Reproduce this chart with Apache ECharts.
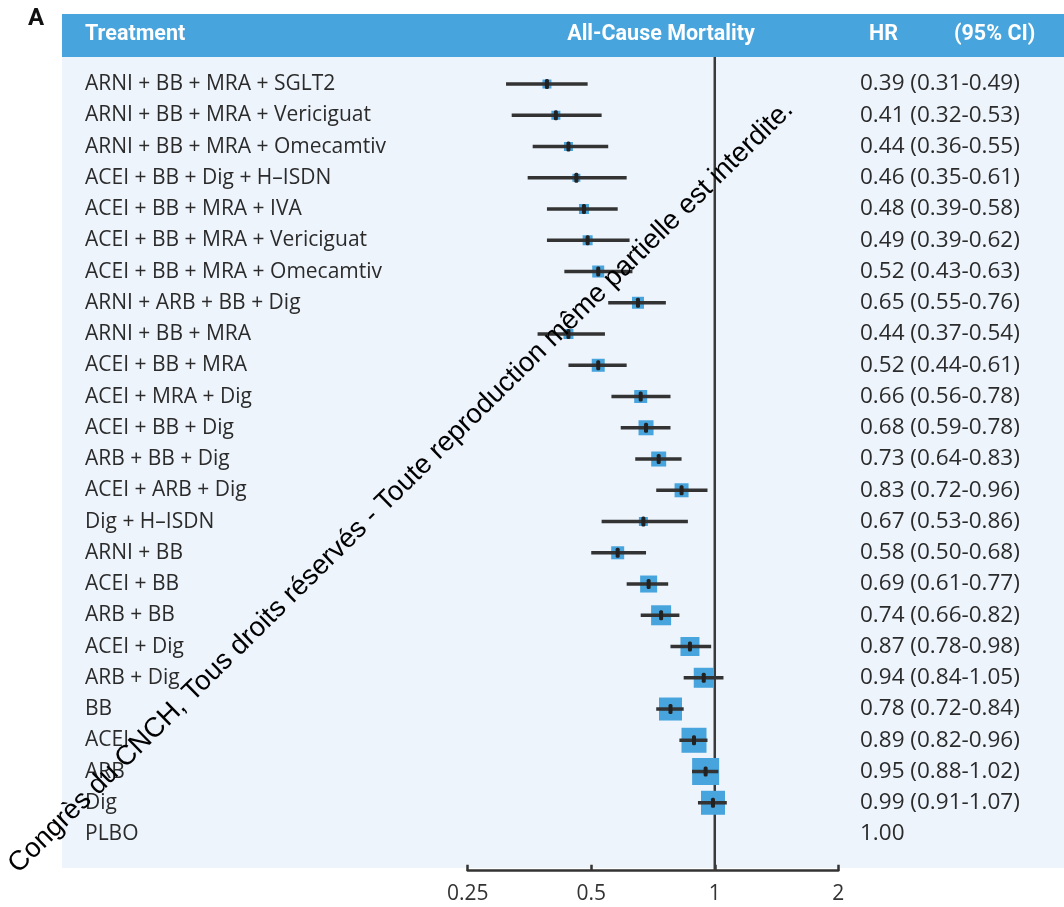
<!DOCTYPE html>
<html>
<head>
<meta charset="utf-8">
<script src="https://cdn.jsdelivr.net/npm/echarts@6/dist/echarts.min.js"></script>
<style>html,body{margin:0;padding:0;background:#fff;}#chart{width:1064px;height:907px;}</style>
</head>
<body>
<div id="chart"></div>
<script>
const categories = [
  'ARNI + BB + MRA + SGLT2','ARNI + BB + MRA + Vericiguat','ARNI + BB + MRA + Omecamtiv',
  'ACEI + BB + Dig + H\u2013ISDN','ACEI + BB + MRA + IVA','ACEI + BB + MRA + Vericiguat',
  'ACEI + BB + MRA + Omecamtiv','ARNI + ARB + BB + Dig','ARNI + BB + MRA','ACEI + BB + MRA',
  'ACEI + MRA + Dig','ACEI + BB + Dig','ARB + BB + Dig','ACEI + ARB + Dig','Dig + H\u2013ISDN',
  'ARNI + BB','ACEI + BB','ARB + BB','ACEI + Dig','ARB + Dig','BB','ACEI','ARB','Dig','PLBO'
];
const hrValues = [0.39,0.41,0.44,0.46,0.48,0.49,0.52,0.65,0.44,0.52,0.66,0.68,0.73,0.83,0.67,0.58,0.69,0.74,0.87,0.94,0.78,0.89,0.95,0.99,1.00];
const ciLower  = [0.31,0.32,0.36,0.35,0.39,0.39,0.43,0.55,0.37,0.44,0.56,0.59,0.64,0.72,0.53,0.50,0.61,0.66,0.78,0.84,0.72,0.82,0.88,0.91,null];
const ciUpper  = [0.49,0.53,0.55,0.61,0.58,0.62,0.63,0.76,0.54,0.61,0.78,0.78,0.83,0.96,0.86,0.68,0.77,0.82,0.98,1.05,0.84,0.96,1.02,1.07,null];
const weights  = [9,9,9,8,10,10,12,12,10,13,13,15,15,14,9,13,17,20,19,20,23,25,27,24,0];
const xTickLabels = ['0.25','0.5','1','2'];
const referenceHR = [1];

const hrTexts = hrValues.map((v, i) =>
  ciLower[i] == null ? v.toFixed(2) : v.toFixed(2) + ' (' + ciLower[i].toFixed(2) + '-' + ciUpper[i].toFixed(2) + ')'
);
const forestData = [];
hrValues.forEach((v, i) => {
  if (ciLower[i] != null) forestData.push([v, i, ciLower[i], ciUpper[i], weights[i]]);
});

const BLUE = '#47a4dd';
const DARK = '#333333';
const chart = echarts.init(document.getElementById('chart'), null, {renderer: 'canvas'});

const gridTop = 68.4, gridH = 781.25, gridLeft = 467.7, gridRight = 225.7;
const HEAD_FONT = 'bold 21.5px Roboto';

chart.setOption({
  animation: false,
  backgroundColor: '#ffffff',
  grid: {left: gridLeft, right: gridRight, top: gridTop, height: gridH, containLabel: false},
  xAxis: {
    type: 'log', logBase: 2, min: 0.25, max: 2, offset: 21,
    axisLine: {show: true, lineStyle: {color: DARK, width: 2.5}},
    axisTick: {show: true, inside: true, length: 6, lineStyle: {color: DARK, width: 2.5}},
    splitLine: {show: false},
    axisLabel: {
      color: '#333', fontSize: 21, fontWeight: 500, fontFamily: 'Open Sans', margin: 13,
      formatter: v => {
        const idx = Math.round(Math.log2(v) + 2);
        return xTickLabels[idx] !== undefined ? xTickLabels[idx] : '';
      }
    }
  },
  yAxis: [
    {
      type: 'category', data: categories, inverse: true, position: 'left',
      axisLine: {show: false}, axisTick: {show: false}, splitLine: {show: false},
      axisLabel: {align: 'left', margin: gridLeft - 85, color: '#2b2b2b', fontSize: 21, fontWeight: 500, fontFamily: 'Open Sans', interval: 0}
    },
    {
      type: 'category', data: hrTexts, inverse: true, position: 'right',
      axisLine: {show: false}, axisTick: {show: false}, splitLine: {show: false},
      axisLabel: {align: 'left', margin: 860 - (1064 - gridRight), color: '#2b2b2b', fontSize: 22.5, fontWeight: 500, fontFamily: 'Open Sans', interval: 0}
    }
  ],
  graphic: [
    {type: 'rect', z: -10, silent: true, shape: {x: 62, y: 57, width: 1002, height: 811}, style: {fill: '#edf4fc'}},
    {type: 'rect', z: 10, silent: true, shape: {x: 62, y: 14, width: 1002, height: 43}, style: {fill: BLUE}},
    {type: 'text', z: 11, x: 85, y: 35, style: {text: 'Treatment', fill: '#fff', font: HEAD_FONT, verticalAlign: 'middle'}},
    {type: 'text', z: 11, x: 661, y: 35, style: {text: 'All-Cause Mortality', fill: '#fff', font: HEAD_FONT, align: 'center', verticalAlign: 'middle'}},
    {type: 'text', z: 11, x: 869, y: 35, style: {text: 'HR', fill: '#fff', font: HEAD_FONT, verticalAlign: 'middle'}},
    {type: 'text', z: 11, x: 954, y: 35, style: {text: '(95% CI)', fill: '#fff', font: HEAD_FONT, verticalAlign: 'middle'}},
    {type: 'text', z: 11, x: 28, y: 19, style: {text: 'A', fill: '#111', font: 'bold 24px Roboto', verticalAlign: 'middle'}},
    {type: 'text', z: 100, x: 401, y: 487, rotation: 0.777,
     style: {text: 'Congrès du CNCH, Tous droits réservés - Toute reproduction même partielle est interdite.',
             fill: '#000', font: '27.5px "Liberation Sans"', align: 'center', verticalAlign: 'middle'}}
  ],
  series: [
    {
      type: 'custom', name: 'ref', data: referenceHR.map(v => [v, 0]), encode: {x: 0, y: 1}, z: 1,
      renderItem: (params, api) => {
        const x = api.coord([api.value(0), 0])[0];
        const cs = params.coordSys;
        return {type: 'line', shape: {x1: x, y1: cs.y - 11.4, x2: x, y2: cs.y + cs.height + 21},
                style: {stroke: '#3a3a3a', lineWidth: 2.5}};
      }
    },
    {
      type: 'custom', name: 'forest', data: forestData, encode: {x: 0, y: 1}, z: 3,
      renderItem: (params, api) => {
        const c = api.coord([api.value(0), api.value(1)]);
        const l = api.coord([api.value(2), api.value(1)]);
        const h = api.coord([api.value(3), api.value(1)]);
        const s = api.value(4);
        return {type: 'group', children: [
          {type: 'rect', shape: {x: c[0] - s / 2, y: c[1] - s / 2, width: s, height: s}, style: {fill: BLUE}},
          {type: 'line', shape: {x1: l[0], y1: c[1], x2: h[0], y2: c[1]}, style: {stroke: DARK, lineWidth: 3.5}},
          {type: 'rect', shape: {x: c[0] - 2, y: c[1] - 5, width: 4, height: 10, r: 1.5}, style: {fill: '#222'}}
        ]};
      }
    }
  ]
});
</script>
</body>
</html>
